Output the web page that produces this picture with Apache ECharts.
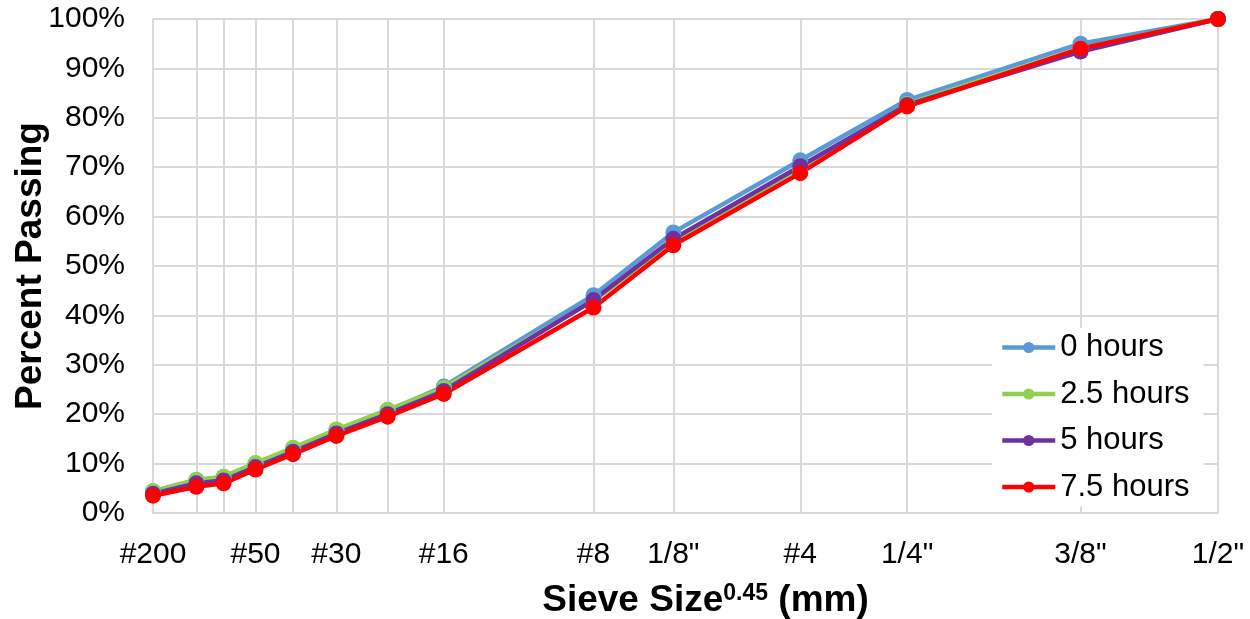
<!DOCTYPE html>
<html>
<head>
<meta charset="utf-8">
<script src="https://cdn.jsdelivr.net/npm/echarts@6/dist/echarts.min.js"></script>
<style>
  html, body { margin: 0; padding: 0; background: #fff; }
  #chart { width: 1250px; height: 619px; }
</style>
</head>
<body>
<div id="chart"></div>
<script>
  // sieve openings (mm) and their names
  var sieveSizes = [0.075, 0.15, 0.212, 0.3, 0.425, 0.6, 0.85, 1.18, 2.36, 3.175, 4.75, 6.35, 9.5, 12.5]
  var sieveNames = ['#200', '#100', '#70', '#50', '#40', '#30', '#20', '#16', '#8', '1/8"', '#4', '1/4"', '3/8"', '1/2"']
  var labeledSieves = ['#200', '#50', '#30', '#16', '#8', '1/8"', '#4', '1/4"', '3/8"', '1/2"']

  // percent passing
  var hours0 = [4.4, 6.7, 7.3, 10.0, 13.1, 16.8, 20.7, 25.6, 44.1, 56.8, 71.4, 83.6, 95.0, 100]
  var hours25 = [4.4, 6.7, 7.3, 10.1, 13.2, 16.9, 20.9, 25.3, 43.0, 54.8, 69.3, 82.8, 94.0, 100]
  var hours5 = [3.9, 6.0, 6.6, 9.3, 12.4, 16.1, 20.0, 24.7, 43.1, 55.5, 70.2, 82.6, 93.4, 100]
  var hours75 = [3.5, 5.3, 6.0, 8.8, 11.9, 15.6, 19.5, 24.1, 41.6, 54.2, 68.8, 82.3, 94.0, 100]

  var seriesNames = ['0 hours', '2.5 hours', '5 hours', '7.5 hours']
  var seriesColors = ['#5B9BD5', '#92D050', '#7030A0', '#FF0000']

  var power = 0.45
  var xPos = sieveSizes.map(function (s) { return Math.pow(s, power) })
  var labelPos = labeledSieves.map(function (n) { return xPos[sieveNames.indexOf(n)] })

  function nameAt(v) {
    var best = 0
    for (var i = 1; i < xPos.length; i++) {
      if (Math.abs(xPos[i] - v) < Math.abs(xPos[best] - v)) best = i
    }
    return sieveNames[best]
  }

  function makeSeries(name, values, color) {
    return {
      name: name,
      type: 'line',
      data: values.map(function (v, i) { return [xPos[i], v] }),
      symbol: 'circle',
      symbolSize: 16,
      lineStyle: { width: 4.5, color: color },
      itemStyle: { color: color },
      color: color
    }
  }

  var font = 'Liberation Sans, Arial, sans-serif'
  var chart = echarts.init(document.getElementById('chart'))
  var option = {
    animation: false,
    textStyle: { fontFamily: font },
    grid: { left: 153, right: 32, top: 19, bottom: 106, outerBoundsMode: 'none', containLabel: false },
    legend: {
      orient: 'vertical',
      left: 992,
      top: 328,
      itemWidth: 53,
      itemHeight: 14,
      itemGap: 15.5,
      backgroundColor: '#fff',
      padding: [4, 14, 4, 8],
      lineStyle: { width: 4.5 },
      textStyle: { fontSize: 31, color: '#000', fontFamily: font },
      data: seriesNames
    },
    xAxis: {
      type: 'value',
      min: xPos[0],
      max: xPos[xPos.length - 1],
      name: 'Sieve Size{sup|0.45} (mm)',
      nameLocation: 'middle',
      nameGap: 69,
      nameTextStyle: {
        fontSize: 37, fontWeight: 'bold', color: '#000', fontFamily: font, padding: [0, 0, 0, 40],
        rich: { sup: { fontSize: 23, fontWeight: 'bold', color: '#000', fontFamily: font, padding: [0, 0, 14, 0] } }
      },
      axisLine: { show: true, lineStyle: { color: '#D9D9D9', width: 2 } },
      axisTick: { show: false, customValues: xPos },
      axisLabel: {
        customValues: labelPos,
        formatter: function (v) { return nameAt(v) },
        fontSize: 30, color: '#000', margin: 27, fontFamily: font
      },
      splitLine: { show: true, lineStyle: { color: '#D9D9D9', width: 2 } }
    },
    yAxis: {
      type: 'value',
      min: 0,
      max: 100,
      interval: 10,
      name: 'Percent Passing',
      nameLocation: 'middle',
      nameGap: 104,
      nameMoveOverlap: false,
      nameTextStyle: { fontSize: 37, fontWeight: 'bold', color: '#000', fontFamily: font },
      axisLine: { show: false },
      axisTick: { show: false },
      axisLabel: { formatter: '{value}%', fontSize: 30, color: '#000', margin: 28, fontFamily: font },
      splitLine: { show: true, lineStyle: { color: '#D9D9D9', width: 2 } }
    },
    series: [
      makeSeries(seriesNames[0], hours0, seriesColors[0]),
      makeSeries(seriesNames[1], hours25, seriesColors[1]),
      makeSeries(seriesNames[2], hours5, seriesColors[2]),
      makeSeries(seriesNames[3], hours75, seriesColors[3])
    ]
  }
  chart.setOption(option)
  window.addEventListener('resize', chart.resize)
</script>
</body>
</html>
